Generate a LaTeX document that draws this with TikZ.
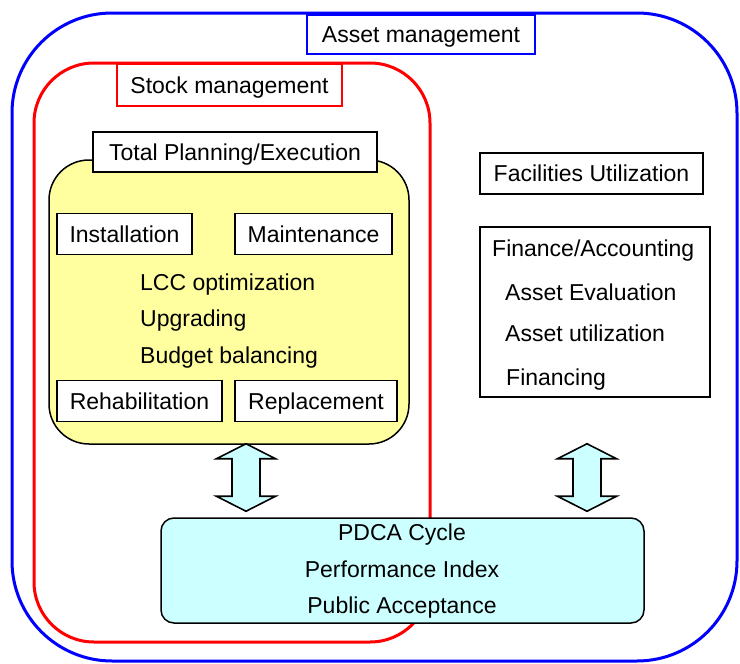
\documentclass[tikz,border=0pt]{standalone}
\usepackage{fontspec}
\setmainfont{Liberation Sans}
\usepackage{tikz}
\usetikzlibrary{positioning,calc}

\definecolor{planyellow}{RGB}{255,255,160}
\definecolor{pdcacyan}{RGB}{204,255,255}

\newcommand{\updown}[2]{%
  \draw[arrowbox] (#1) -- ($(#1)+(29.5,15)$) -- ($(#1)+(14,15)$)
    -- ($(#2)+(14,-15)$) -- ($(#2)+(29.5,-15)$) -- (#2)
    -- ($(#2)+(-29.5,-15)$) -- ($(#2)+(-14,-15)$)
    -- ($(#1)+(-14,15)$) -- ($(#1)+(-29.5,15)$) -- cycle;}

\begin{document}
\begin{tikzpicture}[x=1pt,y=-1pt,
  every node/.style={font=\fontsize{23}{27}\selectfont,text height=16.5pt,text depth=0pt},
  lbl/.style={draw,fill=white,line width=1.5pt,inner sep=0pt,minimum height=41pt},
  item/.style={anchor=west,inner sep=0pt},
  arrowbox/.style={draw,fill=pdcacyan,line width=1.6pt,line join=miter}]
 \useasboundingbox (0,0) rectangle (740,664);
 % outer and inner regions
 \draw[blue,line width=3pt,rounded corners=100pt] (12,13) rectangle (737,661);
 \draw[red,line width=3pt,rounded corners=60pt] (34,63) rectangle (430,642);
 \node[lbl,minimum width=228pt,minimum height=39pt,draw=blue] (asset) at (421,34.5) {Asset management};
 \node[lbl,minimum width=225pt,minimum height=42pt,draw=red] (stock) at (229.5,85) {Stock management};
 % total planning / execution
 \node[draw,fill=planyellow,line width=1.5pt,rounded corners=40pt,
   minimum width=360pt,minimum height=284pt] (tpe) at (229,302) {};
 \node[lbl,minimum width=284pt,minimum height=40pt] (plan) at (235,152) {Total Planning/Execution};
 \node[lbl,minimum width=135pt] (inst) at (124.5,234) {Installation};
 \node[lbl,minimum width=157pt] (maint) at (313.5,234) {Maintenance};
 \node[lbl,minimum width=165pt] (rehab) at (139.5,401) {Rehabilitation};
 \node[lbl,minimum width=162pt] (repl) at (316,401) {Replacement};
 \node[item] (lcc) at (140,282) {LCC optimization};
 \node[item] (upg) at (140,318) {Upgrading};
 \node[item] (bud) at (140,355) {Budget balancing};
 % right side
 \node[lbl,minimum width=223pt] (facil) at (591.5,173.5) {Facilities Utilization};
 \node[lbl,minimum width=230pt,minimum height=170pt,text height=0pt] (finance) at (595,312) {};
 \node[item] (fa) at (492,248) {Finance/Accounting};
 \node[item] (ae) at (505,292) {Asset Evaluation};
 \node[item] (au) at (505,333) {Asset utilization};
 \node[item] (fin) at (506,377) {Financing};
 % PDCA
 \node[draw,fill=pdcacyan,line width=1.5pt,rounded corners=13pt,
   minimum width=483pt,minimum height=105pt,text height=0pt] (pdca) at (402.5,570.5) {};
 \foreach \t/\y in {PDCA Cycle/532,Performance Index/569,Public Acceptance/605}
   {\node[inner sep=0pt] at (402,\y) {\t};}
 % two-way arrows
 \coordinate (lt) at ($(tpe.south -| 246,0)+(0,-1)$);
 \coordinate (lb) at ($(pdca.north -| 246,0)+(0,-6)$);
 \coordinate (rt) at (lt -| 587,0);
 \coordinate (rb) at (lb -| 587,0);
 \updown{lt}{lb}
 \updown{rt}{rb}
\end{tikzpicture}
\end{document}
